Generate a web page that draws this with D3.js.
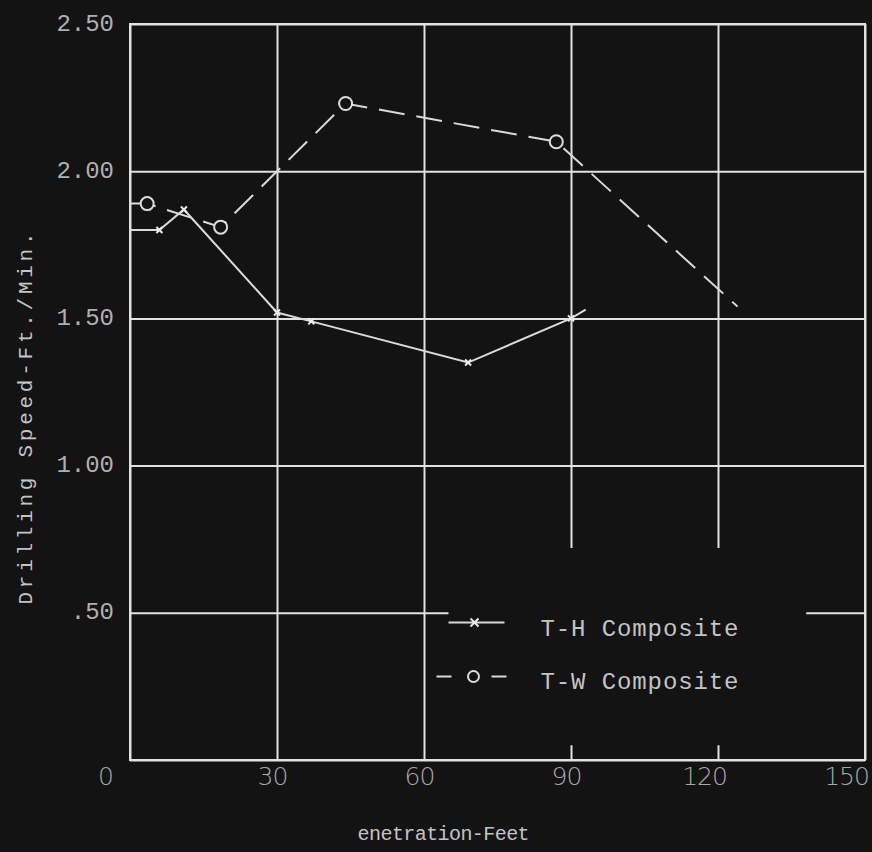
<!DOCTYPE html>
<html>
<head>
<meta charset="utf-8">
<script src="https://cdn.jsdelivr.net/npm/d3@7"></script>
<style>
    body { margin: 0; background: #131313; }
    svg { display: block; }
    .grid line { stroke: #e2e2e2; stroke-width: 2; }
    .grid path { display: none; }
    .xaxis .tick text { fill: #a8a8a8; font-family: "DejaVu Sans", sans-serif; font-weight: 200; font-size: 25px; letter-spacing: -1px; }
    .yaxis .tick text { fill: #b0b0b0; font-family: "Liberation Mono", monospace; font-size: 24px; }
    .axis path { display: none; }
    .axis line { display: none; }
    .series { fill: none; stroke: #dadada; stroke-width: 2; }
    .label { fill: #c4c4c4; font-family: "Liberation Mono", monospace; }
</style>
</head>
<body>
<svg id="chart"></svg>
<script>
// T-H Composite (solid, x marks)
var depthTH = [0, 6, 11, 30, 37, 69, 90, 93];
var speedTH = [1.80, 1.80, 1.87, 1.52, 1.49, 1.35, 1.50, 1.53];

// T-W Composite (dashed, open circles)
var depthTW = [0, 3.5, 18.5, 44, 87, 124];
var speedTW = [1.89, 1.89, 1.81, 2.23, 2.10, 1.54];

var seriesNames = ["T-H Composite", "T-W Composite"];

var xTicks = [0, 30, 60, 90, 120, 150];
var xTickLabels = ["0", "30", "60", "90", "120", "150"];
var yTicks = [0, 0.5, 1, 1.5, 2, 2.5];
var yTickLabels = ["", ".50", "1.00", "1.50", "2.00", "2.50"];

var xTitle = "enetration-Feet";
var yTitle = "Drilling Speed-Ft./Min.";

var W = 872, H = 852;
var margin = { top: 24, right: 7, bottom: 92, left: 130 };
var width = W - margin.left - margin.right;
var height = H - margin.top - margin.bottom;

var svg = d3.select("#chart").attr("width", W).attr("height", H);
svg.append("rect").attr("width", W).attr("height", H).attr("fill", "#131313");

var g = svg.append("g").attr("transform", "translate(" + margin.left + "," + margin.top + ")");

var xScale = d3.scaleLinear().domain([0, 150]).range([0, width]);
var yScale = d3.scaleLinear().domain([0, 2.5]).range([height, 0]);

// gridlines
g.append("g")
    .attr("class", "grid")
    .attr("transform", "translate(0," + height + ")")
    .call(d3.axisBottom(xScale).tickValues(xTicks).tickSize(-height).tickFormat(""));

g.append("g")
    .attr("class", "grid")
    .call(d3.axisLeft(yScale).tickValues(yTicks).tickSize(-width).tickFormat(""));

// clear patch behind the legend (grid is broken there in the original)
g.append("rect")
    .attr("x", xScale(65))
    .attr("y", yScale(0.72))
    .attr("width", xScale(138) - xScale(65))
    .attr("height", yScale(0.05) - yScale(0.72))
    .attr("fill", "#131313");

// frame
g.append("rect")
    .attr("width", width).attr("height", height)
    .attr("fill", "none").attr("stroke", "#e2e2e2").attr("stroke-width", 2);

// axes labels
var xAxis = g.append("g")
    .attr("class", "axis xaxis")
    .attr("transform", "translate(0," + height + ")")
    .call(d3.axisBottom(xScale).tickValues(xTicks).tickSize(0).tickPadding(7)
        .tickFormat(function (d, i) { return xTickLabels[i]; }));
xAxis.selectAll(".tick text")
    .attr("dx", function (d) { return d === 0 ? -25 : (d === 150 ? -19 : (d === 120 ? -14 : -5)); });

g.append("g")
    .attr("class", "axis yaxis")
    .call(d3.axisLeft(yScale).tickValues(yTicks).tickSize(0).tickPadding(16)
        .tickFormat(function (d, i) { return yTickLabels[i]; }))
    .selectAll(".tick text").attr("dy", "0.25em");

svg.append("text")
    .attr("class", "label")
    .attr("x", margin.left + xScale(64))
    .attr("y", 840)
    .attr("text-anchor", "middle")
    .attr("font-size", 20)
    .attr("textLength", 172)
    .attr("lengthAdjust", "spacing")
    .text(xTitle);

svg.append("text")
    .attr("class", "label")
    .attr("transform", "translate(32," + (margin.top + yScale(1.16)) + ") rotate(-90)")
    .attr("text-anchor", "middle")
    .attr("font-size", 21)
    .attr("textLength", 372)
    .attr("lengthAdjust", "spacing")
    .text(yTitle);

// series
var line = d3.line()
    .x(function (d) { return xScale(d[0]); })
    .y(function (d) { return yScale(d[1]); });

var th = d3.zip(depthTH, speedTH);
var tw = d3.zip(depthTW, speedTW);

g.append("path").attr("class", "series").attr("d", line(th));
g.append("path").attr("class", "series")
    .attr("stroke-dasharray", "26,12")
    .attr("d", line(tw));

function xMark(sel, s) {
    sel.append("path")
        .attr("d", "M" + (-s) + "," + (-s) + "L" + s + "," + s + "M" + (-s) + "," + s + "L" + s + "," + (-s))
        .attr("stroke", "#ececec").attr("stroke-width", 2).attr("fill", "none");
}

g.selectAll(".thmark")
    .data(th.slice(1, -1))
    .enter().append("g")
    .attr("class", "thmark")
    .attr("transform", function (d) { return "translate(" + xScale(d[0]) + "," + yScale(d[1]) + ")"; })
    .call(xMark, 3);

g.selectAll(".twmark")
    .data(tw.slice(1, -1))
    .enter().append("circle")
    .attr("class", "twmark")
    .attr("cx", function (d) { return xScale(d[0]); })
    .attr("cy", function (d) { return yScale(d[1]); })
    .attr("r", 6.5)
    .attr("fill", "#131313")
    .attr("stroke", "#dcdcdc")
    .attr("stroke-width", 2);

// legend
var legend = g.append("g").attr("transform", "translate(" + xScale(65) + "," + yScale(0.467) + ")");

legend.append("line").attr("x1", 0).attr("x2", 56).attr("y1", 0).attr("y2", 0)
    .attr("class", "series");
legend.append("g").attr("transform", "translate(26,0)").call(xMark, 4);
legend.append("text").attr("class", "label")
    .attr("x", 92).attr("y", 13).attr("font-size", 24)
    .attr("textLength", 198).attr("lengthAdjust", "spacing")
    .text(seriesNames[0]);

var row2 = legend.append("g").attr("transform", "translate(-12,54)");
row2.append("line").attr("x1", 0).attr("x2", 70).attr("y1", 0).attr("y2", 0)
    .attr("class", "series").attr("stroke-dasharray", "15,10,0,20,0,10,15");
row2.append("circle").attr("cx", 37).attr("cy", 0).attr("r", 5.5)
    .attr("fill", "#131313").attr("stroke", "#dcdcdc").attr("stroke-width", 2);
row2.append("text").attr("class", "label")
    .attr("x", 104).attr("y", 12).attr("font-size", 24)
    .attr("textLength", 198).attr("lengthAdjust", "spacing")
    .text(seriesNames[1]);
</script>
</body>
</html>
